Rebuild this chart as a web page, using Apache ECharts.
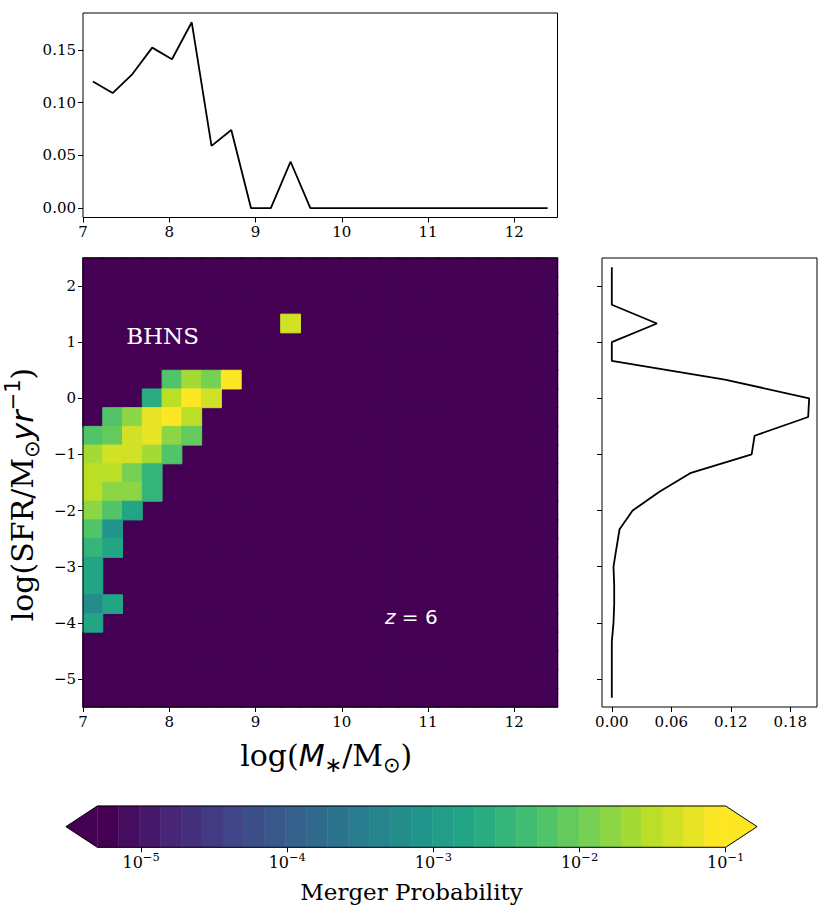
<!DOCTYPE html>
<html><head><meta charset="utf-8">
<script src="https://cdn.jsdelivr.net/npm/echarts@6/dist/echarts.min.js"></script>
<style>html,body{margin:0;padding:0;background:#fff}#c{width:831px;height:914px}</style>
</head><body><div id="c"></div>
<script>
// ---- data ----
const massBins = [7.1146,7.3438,7.5729,7.8021,8.0313,8.2604,8.4896,8.7188,8.9479,9.1771,9.4063,9.6354,
  9.8646,10.0938,10.3229,10.5521,10.7813,11.0104,11.2396,11.4688,11.6979,11.9271,12.1563,12.3854];
const sfrBins = [2.3333,2.0,1.6667,1.3333,1.0,0.6667,0.3333,0.0,-0.3333,-0.6667,-1.0,-1.3333,
  -1.6667,-2.0,-2.3333,-2.6667,-3.0,-3.3333,-3.6667,-4.0,-4.3333,-4.6667,-5.0,-5.3333];
const massMarginal = [0.120,0.109,0.127,0.152,0.141,0.176,0.059,0.074,0,0,0.044,0,
  0,0,0,0,0,0,0,0,0,0,0,0];
const sfrMarginal = [0,0,0,0.0455,0,0,0.114,0.199,0.198,0.144,0.141,0.079,
  0.048,0.021,0.0078,0.0047,0.0017,0.0024,0.0024,0.0017,0,0,0,0];
// non-empty cells of the merger-probability map (indices into massBins / sfrBins)
const cellMassBin = [10, 4,5,6,7, 3,4,5,6, 1,2,3,4,5, 0,1,2,3,4,5, 0,1,2,3,4, 0,1,2,3, 0,1,2,3, 0,1,2, 0,1, 0,1, 0, 0, 0,1, 0];
const cellSfrBin  = [3, 6,6,6,6, 7,7,7,7, 8,8,8,8,8, 9,9,9,9,9,9, 10,10,10,10,10, 11,11,11,11, 12,12,12,12, 13,13,13, 14,14, 15,15, 16, 17, 18,18, 19];
const cellProb    = [0.045, 0.006,0.023,0.012,0.085, 0.0023,0.032,0.09,0.045, 0.006,0.016,0.062,0.085,0.032,
  0.006,0.0085,0.045,0.062,0.016,0.0085, 0.023,0.048,0.048,0.023,0.006, 0.035,0.035,0.012,0.0028,
  0.032,0.016,0.016,0.0032, 0.016,0.006,0.0015, 0.006,0.00085, 0.003,0.0016, 0.0017, 0.0017, 0.0006,0.0016, 0.0019];
const colorLevelLogMin = -5.3, colorLevelLogMax = -1, colorLevelCount = 30;
const cbarTickExp = [-5,-4,-3,-2,-1];
const massTicks = [7,8,9,10,11,12];
const sfrTicks = [-5,-4,-3,-2,-1,0,1,2];
const massMargTicks = [0,0.05,0.10,0.15];
const sfrMargTicks = [0,0.06,0.12,0.18];
const annoText = ['BHNS','z'];
const annoX = [7.5, 10.5];
const annoY = [1.0, -4.0];

// ---- colormap ----
const viridisAnchors = ['#440154','#482475','#414487','#355f8d','#2a788e','#21918c','#22a884','#44bf70','#7ad151','#bddf26','#fde725'];
function hex2rgb(h){return [parseInt(h.slice(1,3),16),parseInt(h.slice(3,5),16),parseInt(h.slice(5,7),16)];}
function viridis(t){
  t=Math.max(0,Math.min(1,t));
  const n=viridisAnchors.length-1, f=t*n, i=Math.min(n-1,Math.floor(f)), u=f-i;
  const a=hex2rgb(viridisAnchors[i]), b=hex2rgb(viridisAnchors[i+1]);
  return 'rgb('+a.map((v,k)=>Math.round(v+(b[k]-v)*u)).join(',')+')';
}
const levelStep=(colorLevelLogMax-colorLevelLogMin)/colorLevelCount;
function probColor(p){
  if(!(p>0)) return viridis(0);
  let k=Math.floor((Math.log10(p)-colorLevelLogMin)/levelStep);
  k=Math.max(0,Math.min(colorLevelCount-1,k));
  return viridis(k/(colorLevelCount-1));
}

// ---- build series data (empty cells first, then filled cells on top) ----
const probMatrix = sfrBins.map(()=>massBins.map(()=>0));
cellProb.forEach((p,n)=>{probMatrix[cellSfrBin[n]][cellMassBin[n]]=p;});
const emptyData=[], filledData=[];
sfrBins.forEach((y,j)=>massBins.forEach((x,i)=>{
  const p=probMatrix[j][i];
  (p>0?filledData:emptyData).push([x,y,p]);
}));
const heatData=emptyData.concat(filledData);
const halfW=(massBins[1]-massBins[0])/2, halfH=(sfrBins[0]-sfrBins[1])/2;
const massLine = massBins.map((x,i)=>[x,massMarginal[i]]);
const sfrLine = sfrBins.map((y,j)=>[sfrMarginal[j],y]);
const cbarPieces=[];
for(let k=0;k<colorLevelCount;k++) cbarPieces.push([colorLevelLogMin+k*levelStep, colorLevelLogMin+(k+1)*levelStep, k]);

const SERIF='DejaVu Serif', SANS='DejaVu Sans';
const minus = v=> (v<0?'−':'')+Math.abs(v);
const tickLbl = {color:'#000',fontFamily:SERIF,fontSize:15};
const tickStyle = {show:true,inside:false,length:5,lineStyle:{color:'#000',width:1}};
const noLine = {show:false,onZero:false};
const nameRich = {
  n:{fontFamily:SERIF,fontSize:30,color:'#000',lineHeight:40},
  it:{fontFamily:SANS,fontStyle:'italic',fontSize:30,color:'#000',lineHeight:40},
  sub:{fontFamily:SANS,fontSize:21,color:'#000',verticalAlign:'bottom',lineHeight:25},
  sup:{fontFamily:SANS,fontSize:21,color:'#000',verticalAlign:'top',lineHeight:25}
};
const gridBase = {show:true,borderColor:'#000',borderWidth:1,z:10,containLabel:false,outerBoundsMode:'none'};

const chart = echarts.init(document.getElementById('c'),null,{renderer:'svg'});
chart.setOption({
  backgroundColor:'#fff',
  animation:false,
  textStyle:{fontFamily:SERIF},
  grid:[
    Object.assign({left:83,top:13,width:474.5,height:204.5},gridBase),
    Object.assign({left:83,top:258,width:474.5,height:449},gridBase),
    Object.assign({left:602,top:258,width:215,height:449},gridBase),
    {left:97.3,top:806,width:628.4,height:41.3,show:false,containLabel:false,outerBoundsMode:'none'}
  ],
  xAxis:[
    {gridIndex:0,type:'value',min:7,max:12.5,axisLine:noLine,splitLine:{show:false},
      axisTick:Object.assign({customValues:massTicks},tickStyle),
      axisLabel:Object.assign({customValues:massTicks,margin:7},tickLbl)},
    {gridIndex:1,type:'value',min:7,max:12.5,axisLine:noLine,splitLine:{show:false},
      axisTick:Object.assign({customValues:massTicks},tickStyle),
      axisLabel:Object.assign({customValues:massTicks,margin:7},tickLbl),
      name:'{n|log(}{it|M}{sub|∗}{n|/M}{sub|⊙}{n|)}',nameLocation:'middle',nameGap:28,
      nameTextStyle:{rich:nameRich,padding:[0,0,0,12]}},
    {gridIndex:2,type:'value',min:-0.0099,max:0.2069,axisLine:noLine,splitLine:{show:false},
      axisTick:Object.assign({customValues:sfrMargTicks},tickStyle),
      axisLabel:Object.assign({customValues:sfrMargTicks,margin:7,formatter:v=>v.toFixed(2)},tickLbl)},
    {gridIndex:3,type:'value',min:colorLevelLogMin,max:colorLevelLogMax,axisLine:noLine,splitLine:{show:false},
      axisTick:Object.assign({customValues:cbarTickExp},tickStyle),
      axisLabel:Object.assign({customValues:cbarTickExp,margin:4,
        formatter:v=>'{b|10}{s|'+minus(v)+'}',
        rich:{b:{fontFamily:SERIF,fontSize:16,color:'#000',lineHeight:22},
              s:{fontFamily:SERIF,fontSize:11.5,color:'#000',verticalAlign:'top',lineHeight:14}}},tickLbl),
      name:'Merger Probability',nameLocation:'middle',nameGap:33,
      nameTextStyle:{fontFamily:SERIF,fontSize:23,color:'#000'}}
  ],
  yAxis:[
    {gridIndex:0,type:'value',min:-0.0088,max:0.1848,axisLine:noLine,splitLine:{show:false},
      axisTick:Object.assign({customValues:massMargTicks},tickStyle),
      axisLabel:Object.assign({customValues:massMargTicks,margin:7,formatter:v=>v.toFixed(2)},tickLbl)},
    {gridIndex:1,type:'value',min:-5.5,max:2.5,axisLine:noLine,splitLine:{show:false},
      axisTick:Object.assign({customValues:sfrTicks},tickStyle),
      axisLabel:Object.assign({customValues:sfrTicks,margin:7,formatter:minus},tickLbl),
      name:'{n|log(SFR/M}{sub|⊙}{it|yr}{sup|−1}{n|)}',nameLocation:'middle',nameGap:36,
      nameTextStyle:{rich:nameRich,padding:[0,24,0,0]}},
    {gridIndex:2,type:'value',min:-5.5,max:2.5,axisLine:noLine,splitLine:{show:false},
      axisTick:Object.assign({customValues:sfrTicks},tickStyle),
      axisLabel:{show:false,customValues:sfrTicks}},
    {gridIndex:3,type:'value',min:0,max:1,show:false}
  ],
  series:[
    {type:'line',xAxisIndex:0,yAxisIndex:0,data:massLine,showSymbol:false,symbol:'none',
      lineStyle:{color:'#000',width:1.8},silent:true},
    {type:'custom',xAxisIndex:1,yAxisIndex:1,data:heatData,silent:true,
      renderItem:(params,api)=>{
        const x=api.value(0),y=api.value(1),p=api.value(2);
        const a=api.coord([x-halfW,y+halfH]), b=api.coord([x+halfW,y-halfH]);
        const c=probColor(p);
        return {type:'rect',shape:{x:a[0],y:a[1],width:b[0]-a[0],height:b[1]-a[1]},
          style:{fill:c,stroke:c,lineWidth:p>0?1:1.6}};
      }},
    {type:'custom',xAxisIndex:1,yAxisIndex:1,silent:true,z:5,
      data:annoText.map((t,i)=>[annoX[i],annoY[i]]),
      renderItem:(params,api)=>{
        const pt=api.coord([api.value(0),api.value(1)]);
        const t=annoText[params.dataIndex];
        if(t==='BHNS'){
          return {type:'text',x:pt[0],y:pt[1]+5,style:{text:'BHNS',fill:'#fff',fontFamily:SERIF,fontSize:23,
            align:'left',verticalAlign:'bottom'}};
        }
        return {type:'text',x:pt[0],y:pt[1]+4,style:{text:'{i|z} = 6',fill:'#fff',
          fontFamily:SANS,fontSize:20,align:'left',verticalAlign:'bottom',
          rich:{i:{fontFamily:SANS,fontStyle:'italic',fontSize:20,fill:'#fff'}}}};
      }},
    {type:'line',xAxisIndex:2,yAxisIndex:2,data:sfrLine,showSymbol:false,symbol:'none',
      lineStyle:{color:'#000',width:1.8},silent:true},
    {type:'custom',xAxisIndex:3,yAxisIndex:3,data:cbarPieces,silent:true,
      renderItem:(params,api)=>{
        const a=api.coord([api.value(0),1]), b=api.coord([api.value(1),0]);
        const c=viridis(api.value(2)/(colorLevelCount-1));
        return {type:'rect',shape:{x:a[0],y:a[1],width:b[0]-a[0],height:b[1]-a[1]},
          style:{fill:c,stroke:c,lineWidth:0.5}};
      }},
    {type:'custom',xAxisIndex:3,yAxisIndex:3,data:[[0],[1],[2]],silent:true,z:4,
      renderItem:(params,api)=>{
        const l0=api.coord([colorLevelLogMin,0]), l1=api.coord([colorLevelLogMin,1]);
        const r0=api.coord([colorLevelLogMax,0]), r1=api.coord([colorLevelLogMax,1]);
        const ext=(r0[0]-l0[0])*0.05, mid=(l0[1]+l1[1])/2;
        const idx=params.dataIndex;
        if(idx===0) return {type:'polygon',shape:{points:[l1,[l0[0]-ext,mid],l0]},style:{fill:viridis(0)}};
        if(idx===1) return {type:'polygon',shape:{points:[r1,[r0[0]+ext,mid],r0]},style:{fill:viridis(1)}};
        return {type:'polygon',shape:{points:[l1,r1,[r0[0]+ext,mid],r0,l0,[l0[0]-ext,mid]]},
          style:{fill:'none',stroke:'#000',lineWidth:1}};
      }}
  ]
});
</script></body></html>
